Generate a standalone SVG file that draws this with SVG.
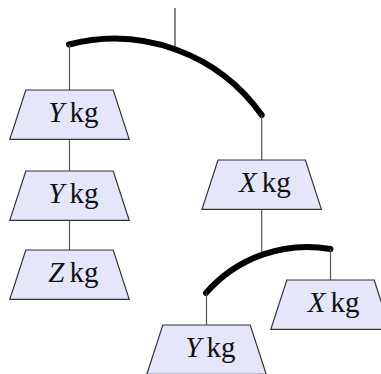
<svg xmlns="http://www.w3.org/2000/svg" width="381" height="374" viewBox="0 0 381 374">
<style>
.bar{fill:none;stroke:#000;stroke-width:6;stroke-linecap:round}
.str{fill:none;stroke:#555;stroke-width:1.2}
.top{fill:none;stroke:#111;stroke-width:1}
.box{fill:#E6E6FA;stroke:#333;stroke-width:1.2;stroke-linejoin:miter}
text{font-family:'Liberation Serif','DejaVu Serif','Times New Roman',serif;font-size:29px;fill:#111}
.v{font-style:italic;text-anchor:end}
.u{font-style:normal;text-anchor:start}
</style>
<defs>
<path id="trap" d="M-43.7,0 L43.7,0 L59.7,49.3 L-59.7,49.3 Z"/>
</defs>
<g id="connectors">
<line class="top" x1="175" y1="8" x2="175" y2="49"/>
<path class="bar" d="M69,44.5 A180.5,180.5 0 0 1 261.7,115"/>
<line class="str" x1="69.5" y1="44.5" x2="69.5" y2="90"/>
<line class="str" x1="69.5" y1="139.3" x2="69.5" y2="171"/>
<line class="str" x1="69.5" y1="220.3" x2="69.5" y2="250"/>
<line class="str" x1="261.7" y1="115" x2="261.7" y2="160"/>
<line class="str" x1="261.7" y1="209.3" x2="261.7" y2="254"/>
<path class="bar" d="M206,293 A134,134 0 0 1 330.5,249"/>
<line class="str" x1="330.5" y1="249" x2="330.5" y2="280"/>
<line class="str" x1="206.5" y1="293" x2="206.5" y2="325"/>
</g>
<g id="nodeA" transform="translate(69.5,90)">
<use href="#trap" class="box"/>
<text class="v" x="-5" y="32">Y</text><text class="u" x="0" y="32">kg</text>
</g>
<g id="nodeB" transform="translate(69.5,171)">
<use href="#trap" class="box"/>
<text class="v" x="-5" y="32">Y</text><text class="u" x="0" y="32">kg</text>
</g>
<g id="nodeC" transform="translate(69.5,250)">
<use href="#trap" class="box"/>
<text class="v" x="-5" y="32">Z</text><text class="u" x="0" y="32">kg</text>
</g>
<g id="nodeD" transform="translate(261.7,160)">
<use href="#trap" class="box"/>
<text class="v" x="-5" y="32">X</text><text class="u" x="0" y="32">kg</text>
</g>
<g id="nodeE" transform="translate(330.5,280)">
<use href="#trap" class="box"/>
<text class="v" x="-5" y="32">X</text><text class="u" x="0" y="32">kg</text>
</g>
<g id="nodeF" transform="translate(206.5,325)">
<use href="#trap" class="box"/>
<text class="v" x="-5" y="32">Y</text><text class="u" x="0" y="32">kg</text>
</g>
</svg>
